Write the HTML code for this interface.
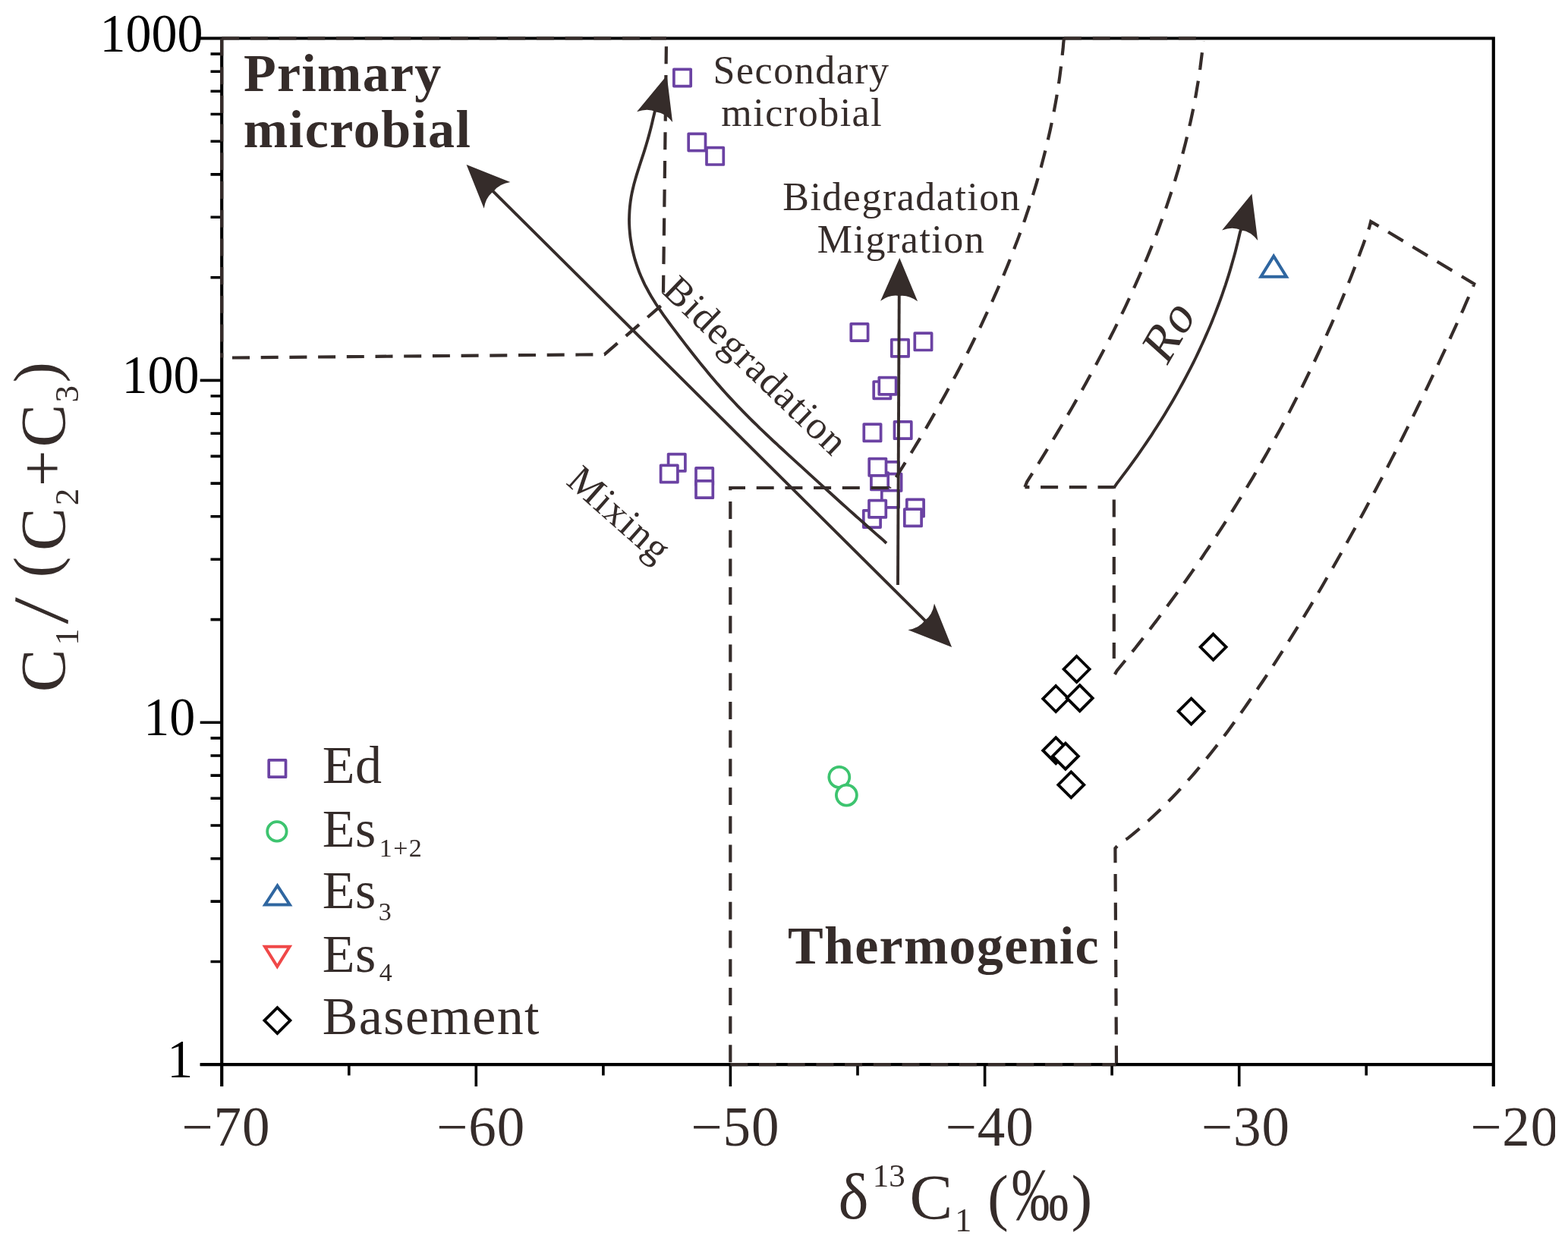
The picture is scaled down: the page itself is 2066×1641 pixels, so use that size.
<!DOCTYPE html>
<html><head><meta charset="utf-8"><title>C1/(C2+C3) vs d13C1</title><style>html,body{margin:0;padding:0;background:#fff;overflow:hidden}</style></head><body>
<svg width="2066" height="1641" viewBox="0 0 2066 1641" style="display:block">
<rect x="0" y="0" width="2066" height="1641" fill="#fff"/>
<path d="M292.2,48.4 V1432 M1967.8,48.4 V1432 M263.7,50.5 H1969.8999999999999 M263.7,1403.2 H1969.8999999999999" stroke="#000" stroke-width="4.2" fill="none"/>
<path d="M263.7,1403.2 H292.2 M277.5,1267.5 H292.2 M277.5,1188.1 H292.2 M277.5,1131.7 H292.2 M277.5,1088.0 H292.2 M277.5,1052.3 H292.2 M277.5,1022.1 H292.2 M277.5,996.0 H292.2 M277.5,972.9 H292.2 M263.7,952.3 H292.2 M277.5,816.6 H292.2 M277.5,737.2 H292.2 M277.5,680.8 H292.2 M277.5,637.1 H292.2 M277.5,601.4 H292.2 M277.5,571.2 H292.2 M277.5,545.1 H292.2 M277.5,522.0 H292.2 M263.7,501.4 H292.2 M277.5,365.7 H292.2 M277.5,286.3 H292.2 M277.5,229.9 H292.2 M277.5,186.2 H292.2 M277.5,150.5 H292.2 M277.5,120.3 H292.2 M277.5,94.2 H292.2 M277.5,71.1 H292.2 M459.8,1403.2 V1417.5 M627.3,1403.2 V1432 M794.9,1403.2 V1417.5 M962.4,1403.2 V1432 M1130.0,1403.2 V1417.5 M1297.6,1403.2 V1432 M1465.1,1403.2 V1417.5 M1632.7,1403.2 V1432 M1800.2,1403.2 V1417.5" stroke="#000" stroke-width="3.6" fill="none"/>
<rect x="887.9" y="91.3" width="22.3" height="22.3" fill="#fff" stroke="#6b42a3" stroke-width="3.7" stroke-linejoin="round"/>
<rect x="907.2" y="176.3" width="22.3" height="22.3" fill="#fff" stroke="#6b42a3" stroke-width="3.7" stroke-linejoin="round"/>
<rect x="931.0" y="194.7" width="22.3" height="22.3" fill="#fff" stroke="#6b42a3" stroke-width="3.7" stroke-linejoin="round"/>
<rect x="1121.3" y="426.8" width="22.3" height="22.3" fill="#fff" stroke="#6b42a3" stroke-width="3.7" stroke-linejoin="round"/>
<rect x="1174.8" y="447.6" width="22.3" height="22.3" fill="#fff" stroke="#6b42a3" stroke-width="3.7" stroke-linejoin="round"/>
<rect x="1205.3" y="439.2" width="22.3" height="22.3" fill="#fff" stroke="#6b42a3" stroke-width="3.7" stroke-linejoin="round"/>
<rect x="1151.2" y="503.0" width="22.3" height="22.3" fill="#fff" stroke="#6b42a3" stroke-width="3.7" stroke-linejoin="round"/>
<rect x="1158.3" y="497.6" width="22.3" height="22.3" fill="#fff" stroke="#6b42a3" stroke-width="3.7" stroke-linejoin="round"/>
<rect x="1138.3" y="559.1" width="22.3" height="22.3" fill="#fff" stroke="#6b42a3" stroke-width="3.7" stroke-linejoin="round"/>
<rect x="1178.5" y="555.9" width="22.3" height="22.3" fill="#fff" stroke="#6b42a3" stroke-width="3.7" stroke-linejoin="round"/>
<rect x="1161.8" y="608.9" width="22.3" height="22.3" fill="#fff" stroke="#6b42a3" stroke-width="3.7" stroke-linejoin="round"/>
<rect x="1165.3" y="624.6" width="22.3" height="22.3" fill="#fff" stroke="#6b42a3" stroke-width="3.7" stroke-linejoin="round"/>
<rect x="1147.9" y="623.1" width="22.3" height="22.3" fill="#fff" stroke="#6b42a3" stroke-width="3.7" stroke-linejoin="round"/>
<rect x="1145.2" y="604.6" width="22.3" height="22.3" fill="#fff" stroke="#6b42a3" stroke-width="3.7" stroke-linejoin="round"/>
<rect x="1161.8" y="646.6" width="22.3" height="22.3" fill="#fff" stroke="#6b42a3" stroke-width="3.7" stroke-linejoin="round"/>
<rect x="1137.8" y="672.8" width="22.3" height="22.3" fill="#fff" stroke="#6b42a3" stroke-width="3.7" stroke-linejoin="round"/>
<rect x="1145.0" y="659.6" width="22.3" height="22.3" fill="#fff" stroke="#6b42a3" stroke-width="3.7" stroke-linejoin="round"/>
<rect x="1194.8" y="658.4" width="22.3" height="22.3" fill="#fff" stroke="#6b42a3" stroke-width="3.7" stroke-linejoin="round"/>
<rect x="1191.8" y="671.1" width="22.3" height="22.3" fill="#fff" stroke="#6b42a3" stroke-width="3.7" stroke-linejoin="round"/>
<rect x="880.6" y="598.6" width="22.3" height="22.3" fill="#fff" stroke="#6b42a3" stroke-width="3.7" stroke-linejoin="round"/>
<rect x="870.6" y="613.4" width="22.3" height="22.3" fill="#fff" stroke="#6b42a3" stroke-width="3.7" stroke-linejoin="round"/>
<rect x="917.0" y="616.9" width="22.3" height="22.3" fill="#fff" stroke="#6b42a3" stroke-width="3.7" stroke-linejoin="round"/>
<rect x="917.0" y="633.9" width="22.3" height="22.3" fill="#fff" stroke="#6b42a3" stroke-width="3.7" stroke-linejoin="round"/>
<path d="M1418.6,865.0 L1435.6,882.0 L1418.6,899.0 L1401.6,882.0 Z" fill="#fff" stroke="#000" stroke-width="3.8"/>
<path d="M1391.2,904.0 L1408.2,921 L1391.2,938.0 L1374.2,921 Z" fill="#fff" stroke="#000" stroke-width="3.8"/>
<path d="M1422.7,903.2 L1439.7,920.2 L1422.7,937.2 L1405.7,920.2 Z" fill="#fff" stroke="#000" stroke-width="3.8"/>
<path d="M1391.2,972.2 L1408.2,989.2 L1391.2,1006.2 L1374.2,989.2 Z" fill="#fff" stroke="#000" stroke-width="3.8"/>
<path d="M1403.9,979.7 L1420.9,996.7 L1403.9,1013.7 L1386.9,996.7 Z" fill="#fff" stroke="#000" stroke-width="3.8"/>
<path d="M1411.3,1017.4000000000001 L1428.3,1034.4 L1411.3,1051.4 L1394.3,1034.4 Z" fill="#fff" stroke="#000" stroke-width="3.8"/>
<path d="M1598.6,835.8 L1615.6,852.8 L1598.6,869.8 L1581.6,852.8 Z" fill="#fff" stroke="#000" stroke-width="3.8"/>
<path d="M1569.6,920.6 L1586.6,937.6 L1569.6,954.6 L1552.6,937.6 Z" fill="#fff" stroke="#000" stroke-width="3.8"/>
<circle cx="1105.8" cy="1024.3" r="13.5" fill="#fff" stroke="#3dc46f" stroke-width="3.8"/>
<circle cx="1115.4" cy="1048.1" r="13.5" fill="#fff" stroke="#3dc46f" stroke-width="3.8"/>
<path d="M1678.2,337.6 L1695,364.7 L1661.4,364.7 Z" fill="#fff" stroke="#2f66a0" stroke-width="4.0" stroke-linejoin="miter"/>
<path d="M292.2,50.5 H878" stroke="#352c2a" stroke-width="4.2" fill="none" stroke-dasharray="23 14.7" stroke-dashoffset="0" stroke-linejoin="miter"/>
<path d="M292.2,50.5 V471.5" stroke="#352c2a" stroke-width="4.2" fill="none" stroke-dasharray="23 14.7" stroke-dashoffset="0" stroke-linejoin="miter"/>
<path d="M306,471.5 L796.5,467.2 L873.8,400.5" stroke="#352c2a" stroke-width="4.2" fill="none" stroke-dasharray="23 14.7" stroke-dashoffset="0" stroke-linejoin="miter"/>
<path d="M873.8,400.5 L878,52" stroke="#352c2a" stroke-width="4.2" fill="none" stroke-dasharray="23 14.7" stroke-dashoffset="23" stroke-linejoin="miter"/>
<path d="M1402.0,50.0 L1401.2,57.0 L1400.6,64.3 L1399.8,71.5 L1399.1,78.7 L1398.2,86.0 L1397.3,93.2 L1396.4,100.3 L1395.4,107.5 L1394.3,114.7 L1393.1,121.8 L1392.0,128.9 L1390.7,136.1 L1389.4,143.2 L1388.1,150.3 L1386.7,157.3 L1385.2,164.4 L1383.7,171.5 L1382.1,178.5 L1380.5,185.5 L1378.8,192.5 L1377.1,199.5 L1375.3,206.5 L1373.5,213.5 L1371.7,220.4 L1369.7,227.4 L1367.8,234.3 L1365.8,241.2 L1363.7,248.1 L1361.6,255.0 L1359.4,261.9 L1357.2,268.8 L1355.0,275.6 L1352.7,282.4 L1350.4,289.3 L1348.0,296.1 L1345.6,302.8 L1343.2,309.6 L1340.7,316.4 L1338.1,323.1 L1335.5,329.9 L1332.9,336.6 L1330.3,343.3 L1327.6,350.0 L1324.8,356.7 L1322.1,363.4 L1319.3,370.0 L1316.4,376.6 L1313.5,383.3 L1310.6,389.9 L1307.7,396.5 L1304.7,403.1 L1301.7,409.6 L1298.6,416.2 L1295.6,422.7 L1292.5,429.3 L1289.3,435.8 L1286.1,442.3 L1282.9,448.8 L1279.7,455.2 L1276.5,461.7 L1273.2,468.1 L1269.9,474.6 L1266.5,481.0 L1263.1,487.4 L1259.8,493.8 L1256.3,500.1 L1252.9,506.5 L1249.4,512.8 L1245.9,519.2 L1242.4,525.5 L1238.9,531.8 L1235.3,538.1 L1231.7,544.4 L1228.1,550.6 L1224.5,556.9 L1220.9,563.1 L1217.2,569.3 L1213.6,575.5 L1209.9,581.7 L1206.1,587.9 L1202.4,594.0 L1198.7,600.2 L1194.9,606.3 L1191.1,612.4 L1187.3,618.5 L1183.5,624.6 L1179.7,630.7 L1175.9,636.8 L1172.0,643.0" stroke="#352c2a" stroke-width="4.2" fill="none" stroke-dasharray="23 14.7" stroke-dashoffset="0" stroke-linejoin="miter"/>
<path d="M1172,643 H962.3 V1403" stroke="#352c2a" stroke-width="4.2" fill="none" stroke-dasharray="23 14.7" stroke-dashoffset="-1.5" stroke-linejoin="miter"/>
<path d="M962.3,1403.2 H1470.5" stroke="#352c2a" stroke-width="4.2" fill="none" stroke-dasharray="23 14.7" stroke-dashoffset="0" stroke-linejoin="miter"/>
<path d="M1402,50.5 H1586" stroke="#352c2a" stroke-width="4.2" fill="none" stroke-dasharray="23 14.7" stroke-dashoffset="0" stroke-linejoin="miter"/>
<path d="M1585.6,54.5 L1584.7,61.2 L1584.0,68.5 L1583.1,75.7 L1582.2,82.9 L1581.3,90.1 L1580.2,97.2 L1579.2,104.4 L1578.0,111.5 L1576.8,118.7 L1575.6,125.8 L1574.3,132.8 L1572.9,139.9 L1571.5,147.0 L1570.0,154.0 L1568.5,161.0 L1566.9,168.0 L1565.3,175.0 L1563.6,182.0 L1561.9,189.0 L1560.1,195.9 L1558.3,202.8 L1556.4,209.7 L1554.4,216.6 L1552.5,223.5 L1550.4,230.4 L1548.4,237.2 L1546.2,244.1 L1544.1,250.9 L1541.9,257.7 L1539.6,264.5 L1537.3,271.3 L1535.0,278.0 L1532.6,284.8 L1530.1,291.5 L1527.7,298.2 L1525.2,304.9 L1522.6,311.6 L1520.0,318.3 L1517.4,324.9 L1514.7,331.6 L1512.0,338.2 L1509.3,344.8 L1506.5,351.4 L1503.7,358.0 L1500.8,364.6 L1497.9,371.2 L1495.0,377.7 L1492.0,384.3 L1489.1,390.8 L1486.0,397.3 L1483.0,403.8 L1479.9,410.3 L1476.8,416.7 L1473.6,423.2 L1470.5,429.6 L1467.3,436.1 L1464.0,442.5 L1460.8,448.9 L1457.5,455.3 L1454.2,461.6 L1450.8,468.0 L1447.5,474.3 L1444.1,480.7 L1440.7,487.0 L1437.2,493.3 L1433.8,499.6 L1430.3,505.9 L1426.8,512.2 L1423.3,518.5 L1419.7,524.7 L1416.2,530.9 L1412.6,537.2 L1409.0,543.4 L1405.3,549.6 L1401.7,555.8 L1398.1,562.0 L1394.4,568.1 L1390.7,574.3 L1387.0,580.4 L1383.3,586.6 L1379.6,592.7 L1375.8,598.8 L1372.1,604.9 L1368.3,611.0 L1364.5,617.1 L1360.7,623.1 L1356.9,629.2 L1353.1,635.2 L1350.4,642.1" stroke="#352c2a" stroke-width="4.2" fill="none" stroke-dasharray="23 14.7" stroke-dashoffset="-14.8" stroke-linejoin="miter"/>
<path d="M1350.4,642.1 H1467.8 V868" stroke="#352c2a" stroke-width="4.2" fill="none" stroke-dasharray="23 14.7" stroke-dashoffset="17" stroke-linejoin="miter"/>
<path d="M1467.8,890.8 L1471.7,884.0 L1476.6,878.0 L1481.5,872.0 L1486.4,865.9 L1491.3,859.8 L1496.2,853.8 L1501.0,847.6 L1505.8,841.5 L1510.6,835.4 L1515.3,829.2 L1520.0,823.0 L1524.8,816.8 L1529.4,810.6 L1534.1,804.4 L1538.7,798.1 L1543.3,791.8 L1547.9,785.6 L1552.5,779.3 L1557.0,772.9 L1561.6,766.6 L1566.0,760.3 L1570.5,753.9 L1574.9,747.5 L1579.4,741.1 L1583.8,734.7 L1588.1,728.2 L1592.5,721.8 L1596.8,715.3 L1601.1,708.8 L1605.3,702.3 L1609.6,695.8 L1613.8,689.3 L1618.0,682.7 L1622.1,676.2 L1626.2,669.6 L1630.3,663.0 L1634.4,656.4 L1638.5,649.7 L1642.5,643.1 L1646.5,636.4 L1650.5,629.8 L1654.4,623.1 L1658.3,616.4 L1662.2,609.6 L1666.1,602.9 L1669.9,596.2 L1673.7,589.4 L1677.5,582.6 L1681.2,575.8 L1685.0,569.0 L1688.7,562.2 L1692.3,555.3 L1696.0,548.5 L1699.6,541.6 L1703.1,534.7 L1706.7,527.8 L1710.2,520.9 L1713.7,513.9 L1717.2,507.0 L1720.6,500.0 L1724.0,493.0 L1727.4,486.1 L1730.7,479.0 L1734.0,472.0 L1737.3,465.0 L1740.6,457.9 L1743.8,450.9 L1747.0,443.8 L1750.1,436.7 L1753.3,429.6 L1756.4,422.5 L1759.4,415.4 L1762.5,408.2 L1765.5,401.0 L1768.5,393.9 L1771.4,386.7 L1774.3,379.5 L1777.2,372.3 L1780.1,365.0 L1782.9,357.8 L1785.7,350.5 L1788.4,343.3 L1791.1,336.0 L1793.8,328.7 L1796.5,321.4 L1799.1,314.1 L1801.7,306.7 L1804.3,299.4 L1806.2,291.9 L1942.3,374.2 L1942.3,374.2 L1939.1,382.4 L1935.5,390.5 L1931.9,398.7 L1928.4,406.8 L1924.8,414.9 L1921.1,423.0 L1917.5,431.1 L1913.8,439.1 L1910.2,447.2 L1906.5,455.3 L1902.8,463.3 L1899.0,471.3 L1895.3,479.4 L1891.5,487.4 L1887.7,495.4 L1883.9,503.4 L1880.1,511.4 L1876.3,519.4 L1872.4,527.4 L1868.5,535.3 L1864.6,543.3 L1860.7,551.2 L1856.8,559.2 L1852.8,567.1 L1848.9,575.0 L1844.9,582.9 L1840.9,590.8 L1836.9,598.7 L1832.8,606.6 L1828.8,614.5 L1824.7,622.3 L1820.6,630.2 L1816.5,638.0 L1812.3,645.9 L1808.2,653.7 L1804.0,661.5 L1799.8,669.4 L1795.6,677.2 L1791.4,685.0 L1787.2,692.8 L1782.9,700.5 L1778.6,708.3 L1774.3,716.1 L1770.0,723.8 L1765.7,731.5 L1761.3,739.3 L1756.9,747.0 L1752.5,754.7 L1748.0,762.3 L1743.6,770.0 L1739.1,777.7 L1734.6,785.3 L1730.1,792.9 L1725.5,800.6 L1720.9,808.1 L1716.3,815.7 L1711.7,823.3 L1707.0,830.8 L1702.3,838.4 L1697.6,845.9 L1692.9,853.4 L1688.1,860.9 L1683.3,868.3 L1678.5,875.8 L1673.6,883.2 L1668.7,890.6 L1663.8,898.0 L1658.8,905.3 L1653.9,912.7 L1648.8,920.0 L1643.8,927.3 L1638.7,934.6 L1633.6,941.8 L1628.4,949.0 L1623.2,956.2 L1618.0,963.4 L1612.7,970.5 L1607.3,977.5 L1601.9,984.5 L1596.4,991.5 L1590.9,998.4 L1585.3,1005.2 L1579.7,1012.0 L1574.0,1018.8 L1568.2,1025.5 L1562.3,1032.1 L1556.4,1038.6 L1550.4,1045.1 L1544.3,1051.5 L1538.1,1057.8 L1531.9,1064.1 L1525.5,1070.2 L1519.1,1076.3 L1512.6,1082.3 L1506.0,1088.2 L1499.3,1094.0 L1492.5,1099.7 L1485.5,1105.3 L1477.5,1109.5 L1469.4,1118 L1471,1403" stroke="#352c2a" stroke-width="4.2" fill="none" stroke-dasharray="23 14.7" stroke-dashoffset="35.52" stroke-linejoin="miter"/>
<path d="M644.6,247.1 L1224.1,823.1" stroke="#352c2a" stroke-width="3.9" fill="none"/>
<path d="M614.6,217.1 L672.3,239.9 Q657.3,242.3 650.1,252.4 Q640.0,259.6 637.7,274.7 Z" fill="#352c2a"/>
<path d="M1254.1,853.1 L1196.4,830.3 Q1211.4,827.9 1218.6,817.8 Q1228.7,810.6 1231.0,795.5 Z" fill="#352c2a"/>
<path d="M1183,771 L1184.8,380" stroke="#352c2a" stroke-width="3.9" fill="none"/>
<path d="M1185.3,340.0 L1209.1,397.3 Q1197.0,388.1 1184.7,390.0 Q1172.5,387.9 1160.1,396.7 Z" fill="#352c2a"/>
<path d="M1168.0,716.0 L1163.7,711.9 L1159.2,708.0 L1154.7,704.1 L1150.2,700.1 L1145.8,696.2 L1141.3,692.3 L1136.9,688.3 L1132.5,684.4 L1128.0,680.5 L1123.6,676.5 L1119.2,672.6 L1114.8,668.6 L1110.4,664.7 L1106.0,660.7 L1101.6,656.7 L1097.2,652.8 L1092.8,648.8 L1088.4,644.8 L1084.1,640.9 L1079.7,636.9 L1075.3,632.9 L1070.9,628.9 L1066.5,624.9 L1062.2,620.9 L1057.8,616.9 L1053.4,612.9 L1049.0,608.9 L1044.6,604.9 L1040.2,600.9 L1035.9,596.9 L1031.5,592.8 L1027.1,588.8 L1022.8,584.7 L1018.4,580.7 L1014.1,576.6 L1009.7,572.5 L1005.4,568.4 L1001.1,564.3 L996.9,560.1 L992.6,556.0 L988.4,551.8 L984.2,547.6 L980.0,543.3 L975.9,539.1 L971.7,534.8 L967.7,530.5 L963.6,526.2 L959.6,521.9 L955.6,517.5 L951.7,513.1 L947.8,508.6 L943.9,504.2 L940.1,499.7 L936.2,495.2 L932.5,490.7 L928.7,486.1 L924.9,481.5 L921.2,476.9 L917.5,472.3 L913.9,467.7 L910.2,463.0 L906.5,458.3 L902.9,453.6 L899.3,448.9 L895.7,444.2 L892.1,439.4 L888.5,434.6 L884.9,429.8 L881.3,425.0 L877.8,420.2 L874.3,415.3 L870.9,410.4 L867.5,405.5 L864.2,400.5 L861.1,395.5 L858.0,390.4 L855.0,385.2 L852.2,380.0 L849.4,374.8 L846.9,369.4 L844.5,364.0 L842.2,358.5 L840.2,353.0 L838.3,347.4 L836.5,341.7 L835.0,336.0 L833.6,330.3 L832.4,324.5 L831.4,318.7 L830.5,312.9 L829.9,307.0 L829.4,301.1 L829.1,295.2 L829.0,289.3 L829.2,283.4 L829.5,277.5 L830.0,271.6 L830.7,265.7 L831.6,259.9 L832.7,254.0 L834.0,248.2 L835.4,242.4 L837.0,236.7 L838.7,230.9 L840.5,225.2 L842.3,219.5 L844.1,213.8 L846.0,208.1 L847.9,202.4 L849.7,196.7 L851.4,191.0 L853.1,185.3 L854.7,179.6 L856.2,173.9 L857.7,168.2 L859.1,162.5 L860.4,156.8 L861.8,151.0 L863.2,145.2" stroke="#352c2a" stroke-width="3.9" fill="none"/>
<path d="M878.6,99.5 L886.1,161.1 Q876.9,149.0 864.6,147.5 Q853.4,142.1 839.1,147.3 Z" fill="#352c2a"/>
<path d="M1467.7,643.0 L1471.3,637.6 L1475.3,632.4 L1479.2,627.2 L1483.2,621.9 L1487.1,616.7 L1490.9,611.4 L1494.7,606.1 L1498.5,600.8 L1502.3,595.4 L1506.0,590.0 L1509.7,584.6 L1513.4,579.2 L1517.0,573.8 L1520.5,568.3 L1524.1,562.8 L1527.6,557.3 L1531.1,551.8 L1534.5,546.2 L1537.9,540.6 L1541.2,535.0 L1544.5,529.4 L1547.8,523.8 L1551.0,518.1 L1554.2,512.4 L1557.3,506.7 L1560.4,501.0 L1563.5,495.2 L1566.5,489.4 L1569.5,483.6 L1572.4,477.8 L1575.3,472.0 L1578.1,466.1 L1580.9,460.2 L1583.6,454.3 L1586.3,448.4 L1588.9,442.4 L1591.5,436.5 L1594.1,430.5 L1596.6,424.4 L1599.0,418.4 L1601.4,412.4 L1603.7,406.3 L1606.0,400.2 L1608.3,394.0 L1610.5,387.9 L1612.6,381.7 L1614.7,375.6 L1616.7,369.3 L1618.7,363.1 L1620.6,356.9 L1622.4,350.6 L1624.2,344.3 L1626.0,338.0 L1627.7,331.7 L1629.3,325.3 L1630.9,318.9 L1632.4,312.5 L1633.9,306.1 L1636.0,300.0" stroke="#352c2a" stroke-width="3.9" fill="none"/>
<path d="M1649.4,255.4 L1657.2,317.0 Q1647.9,304.9 1635.6,303.5 Q1624.4,298.1 1610.1,303.4 Z" fill="#352c2a"/>
<rect x="354.2" y="1001.9" width="22.3" height="22.3" fill="#fff" stroke="#6b42a3" stroke-width="3.7" stroke-linejoin="round"/>
<circle cx="364.9" cy="1095.9" r="12.7" fill="#fff" stroke="#3dc46f" stroke-width="3.8"/>
<path d="M365.5,1167.4 L381.8,1192.5 L349.2,1192.5 Z" fill="#fff" stroke="#2f66a0" stroke-width="4.0" stroke-linejoin="miter"/>
<path d="M365.3,1274 L381.6,1247.8 L349,1247.8 Z" fill="#fff" stroke="#f04848" stroke-width="4.0" stroke-linejoin="miter"/>
<path d="M365.4,1328.1 L382.4,1345.1 L365.4,1362.1 L348.4,1345.1 Z" fill="#fff" stroke="#000" stroke-width="3.8"/>
<text x="0" y="0" font-family="'Liberation Serif', 'Times New Roman', serif" font-size="68" fill="#000" transform="translate(131.4,67.8) scale(1,1.045)">1000</text>
<text x="0" y="0" font-family="'Liberation Serif', 'Times New Roman', serif" font-size="68" fill="#000" transform="translate(160.6,517.8) scale(1,1.045)">100</text>
<text x="0" y="0" font-family="'Liberation Serif', 'Times New Roman', serif" font-size="68" fill="#000" transform="translate(189.3,968.8) scale(1,1.045)">10</text>
<text x="0" y="0" font-family="'Liberation Serif', 'Times New Roman', serif" font-size="68" fill="#000" transform="translate(220.3,1420.0) scale(1,1.045)">1</text>
<text x="239.35" y="1510.105" font-family="'Liberation Serif', 'Times New Roman', serif" font-size="73" font-weight="normal" fill="#352c2a" letter-spacing="1" >−70</text>
<text x="575.0500000000001" y="1510.105" font-family="'Liberation Serif', 'Times New Roman', serif" font-size="73" font-weight="normal" fill="#352c2a" letter-spacing="1" >−60</text>
<text x="910.25" y="1510.105" font-family="'Liberation Serif', 'Times New Roman', serif" font-size="73" font-weight="normal" fill="#352c2a" letter-spacing="1" >−50</text>
<text x="1245.55" y="1510.105" font-family="'Liberation Serif', 'Times New Roman', serif" font-size="73" font-weight="normal" fill="#352c2a" letter-spacing="1" >−40</text>
<text x="1582.85" y="1510.105" font-family="'Liberation Serif', 'Times New Roman', serif" font-size="73" font-weight="normal" fill="#352c2a" letter-spacing="1" >−30</text>
<text x="1937.1499999999999" y="1510.105" font-family="'Liberation Serif', 'Times New Roman', serif" font-size="73" font-weight="normal" fill="#352c2a" letter-spacing="1" >−20</text>
<text x="939.5600000000001" y="109.7" font-family="'Liberation Serif', 'Times New Roman', serif" font-size="52" font-weight="normal" fill="#352c2a" letter-spacing="1.5" >Secondary</text>
<text x="950.36" y="165.7" font-family="'Liberation Serif', 'Times New Roman', serif" font-size="52" font-weight="normal" fill="#352c2a" letter-spacing="1.5" >microbial</text>
<text x="1031.24" y="276.9" font-family="'Liberation Serif', 'Times New Roman', serif" font-size="52" font-weight="normal" fill="#352c2a" letter-spacing="1.5" >Bidegradation</text>
<text x="1076.8400000000001" y="332.9" font-family="'Liberation Serif', 'Times New Roman', serif" font-size="52" font-weight="normal" fill="#352c2a" letter-spacing="1.5" >Migration</text>
<text x="320.90000000000003" y="120" font-family="'Liberation Serif', 'Times New Roman', serif" font-size="70" font-weight="bold" fill="#352c2a" letter-spacing="1.3" >Primary</text>
<text x="320.7" y="193.6" font-family="'Liberation Serif', 'Times New Roman', serif" font-size="70" font-weight="bold" fill="#352c2a" letter-spacing="1.6" >microbial</text>
<text x="1038.0" y="1270.4" font-family="'Liberation Serif', 'Times New Roman', serif" font-size="70" font-weight="bold" fill="#352c2a" letter-spacing="1.3" >Thermogenic</text>
<text x="0" y="0" font-family="'Liberation Serif', 'Times New Roman', serif" font-size="52" font-weight="normal" fill="#352c2a" letter-spacing="1.5" transform="translate(871.1,385.6) rotate(43.9)">Bidegradation</text>
<text x="0" y="0" font-family="'Liberation Serif', 'Times New Roman', serif" font-size="52" font-weight="normal" fill="#352c2a" letter-spacing="1.5" transform="translate(744.5,637) rotate(41.5)">Mixing</text>
<text x="0" y="0" font-family="'Liberation Serif', 'Times New Roman', serif" font-size="66" font-weight="normal" fill="#352c2a" letter-spacing="0" transform="translate(1537,484) rotate(-60) skewX(-12)">Ro</text>
<text x="424.7" y="1032" font-family="'Liberation Serif', 'Times New Roman', serif" font-size="70" font-weight="normal" fill="#352c2a" letter-spacing="0.5" >Ed</text>
<text x="424.7" y="1116.2" font-family="'Liberation Serif', 'Times New Roman', serif" font-size="70" font-weight="normal" fill="#352c2a" letter-spacing="0.5" >Es<tspan font-size="34" dy="12.6" dx="4" letter-spacing="1.5">1+2</tspan></text>
<text x="424.7" y="1197.4" font-family="'Liberation Serif', 'Times New Roman', serif" font-size="70" font-weight="normal" fill="#352c2a" letter-spacing="0.5" >Es<tspan font-size="34" dy="16" dx="3">3</tspan></text>
<text x="424.7" y="1280.7" font-family="'Liberation Serif', 'Times New Roman', serif" font-size="70" font-weight="normal" fill="#352c2a" letter-spacing="0.5" >Es<tspan font-size="34" dy="12.6" dx="4">4</tspan></text>
<text x="424.7" y="1363" font-family="'Liberation Serif', 'Times New Roman', serif" font-size="70" font-weight="normal" fill="#352c2a" letter-spacing="1.4" >Basement</text>
<g transform="translate(85.5,0) rotate(-90)"><text x="-912.2" y="0.0" font-family="'Liberation Serif', 'Times New Roman', serif" font-size="85" fill="#352c2a" >C</text><text x="-850.5" y="17.5" font-family="'Liberation Serif', 'Times New Roman', serif" font-size="44" fill="#352c2a" >1</text><text font-family="'Liberation Serif', 'Times New Roman', serif" font-size="107" fill="#352c2a" transform="translate(-805.1,-30.15) rotate(4.5) translate(-14.7,34.5)">/</text><text x="-761.2" y="-10.2" font-family="'Liberation Serif', 'Times New Roman', serif" font-size="82" fill="#352c2a" >(</text><text x="-726.1" y="0.0" font-family="'Liberation Serif', 'Times New Roman', serif" font-size="85" fill="#352c2a" >C</text><text x="-666.2" y="17.8" font-family="'Liberation Serif', 'Times New Roman', serif" font-size="45" fill="#352c2a" >2</text><text x="-641.3" y="-1.5" font-family="'Liberation Serif', 'Times New Roman', serif" font-size="85" fill="#352c2a" >+</text><text x="-589.4" y="0.0" font-family="'Liberation Serif', 'Times New Roman', serif" font-size="85" fill="#352c2a" >C</text><text x="-530.6" y="17.8" font-family="'Liberation Serif', 'Times New Roman', serif" font-size="45" fill="#352c2a" >3</text><text x="-504.6" y="-10.5" font-family="'Liberation Serif', 'Times New Roman', serif" font-size="82" fill="#352c2a" >)</text></g>
<g><text x="1104.5" y="1606.0" font-family="'Liberation Serif', 'Times New Roman', serif" font-size="85" fill="#352c2a" >δ</text><text x="1149.7" y="1564.0" font-family="'Liberation Serif', 'Times New Roman', serif" font-size="43" fill="#352c2a" >13</text><text x="1198.5" y="1606.5" font-family="'Liberation Serif', 'Times New Roman', serif" font-size="85" fill="#352c2a" >C</text><text x="1258.3" y="1623.3" font-family="'Liberation Serif', 'Times New Roman', serif" font-size="44" fill="#352c2a" >1</text><text x="1301.1" y="1606.1" font-family="'Liberation Serif', 'Times New Roman', serif" font-size="83.5" fill="#352c2a" >(</text><text font-family="'Liberation Serif', 'Times New Roman', serif" font-size="85" fill="#352c2a" transform="translate(1332.9,1606.8) scale(0.885,1.15)">‰</text><text x="1411.6" y="1606.1" font-family="'Liberation Serif', 'Times New Roman', serif" font-size="83.5" fill="#352c2a" >)</text></g>
<rect x="2049" y="0" width="17" height="1641" fill="#fff"/>
</svg>
</body></html>
